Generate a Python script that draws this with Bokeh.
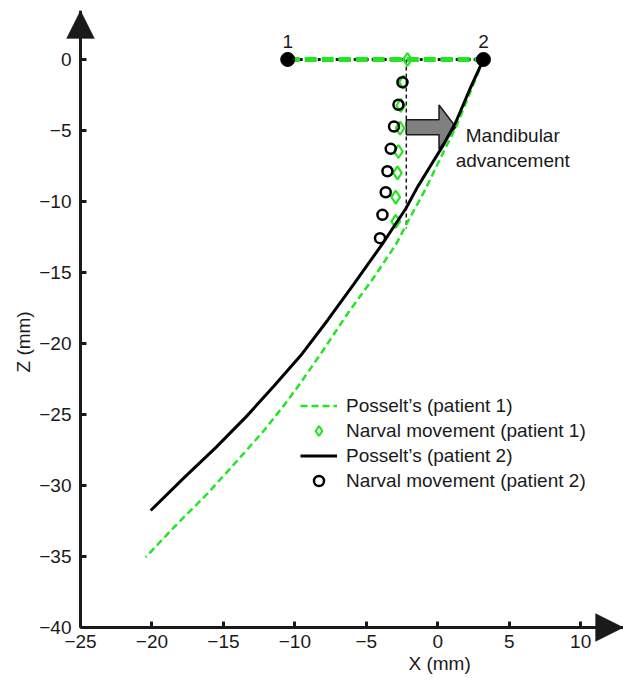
from bokeh.plotting import figure
from bokeh.models import (Range1d, Legend, LegendItem, PolyAnnotation, FixedTicker,
                          LinearAxis, Title)
from bokeh.core.properties import value
from bokeh.embed import file_html
from bokeh.resources import INLINE

FONT = "Liberation Sans"
GREEN = "#22e622"
INK = "#1a1a1a"

# ---- data (mm) ----
posselt1_x = [3.2, 2.2, 1.3, 0.28, -0.84, -2.12, -2.9, -4.46, -6.32, -8.19, -9.82, -10.87,
              -12.16, -14.02, -16.12, -18.46, -20.44]
posselt1_z = [0.0, -2.5, -4.7, -6.76, -9.1, -11.46, -12.98, -15.33, -17.91, -20.73, -23.08,
              -24.49, -26.13, -28.24, -30.58, -32.94, -35.05]

posselt2_x = [3.2, 2.2, 1.26, 0.44, -0.49, -1.42, -2.24, -3.17, -3.87, -5.86, -7.72, -9.59,
              -11.46, -13.4, -15.5, -17.8, -20.09]
posselt2_z = [0.0, -2.2, -4.42, -5.94, -7.46, -8.99, -10.51, -11.92, -12.98, -15.80, -18.38,
              -20.85, -23.0, -25.15, -27.3, -29.5, -31.76]

narval1_x = [-2.12, -2.4, -2.59, -2.64, -2.75, -2.82, -2.94, -2.94]
narval1_z = [0.0, -1.6, -3.24, -4.84, -6.48, -7.98, -9.7, -11.4]

narval2_x = [-2.47, -2.75, -3.06, -3.29, -3.52, -3.64, -3.87, -4.04]
narval2_z = [-1.6, -3.19, -4.72, -6.29, -7.87, -9.35, -10.94, -12.58]

protrusion_x = [-10.5, 3.2]
protrusion_z = [0.0, 0.0]
point_labels = ["1", "2"]

guide_x = [-2.2, -2.2]
guide_z = [0.0, -11.9]

advance_arrow_x = [-2.2, 0.09, 0.09, 1.26, 0.09, 0.09, -2.2]
advance_arrow_z = [-4.25, -4.25, -3.2, -4.75, -6.3, -5.3, -5.3]

annot_text = ["Mandibular", "advancement"]
annot_x = [5.25, 5.25]
annot_z = [-5.35, -7.1]

x_ticks = [-25, -20, -15, -10, -5, 0, 5, 10]
z_ticks = [-40, -35, -30, -25, -20, -15, -10, -5, 0]
x_title = "X (mm)"
z_title = "Z (mm)"

X_AXIS_AT, X_END = -25, 13.0      # y axis drawn at X = -25
Z_AXIS_AT, Z_END = -40, 3.45      # x axis drawn at Z = -40
PAD = 20                           # px of frame outside the axes (room for arrow heads)
PX_X, PX_Z = 500 / 35, 568 / 40    # px per mm
X_START = X_AXIS_AT - PAD / PX_X
Z_START = Z_AXIS_AT - PAD / PX_Z

p = figure(width=623, height=680, x_range=Range1d(X_START, X_END),
           y_range=Range1d(Z_START, Z_END), output_backend="svg",
           toolbar_location=None, min_border_left=80 - PAD, min_border_right=0,
           min_border_top=10, min_border_bottom=53 - PAD)
p.xgrid.visible = False
p.ygrid.visible = False
p.outline_line_color = None
p.background_fill_color = "white"


def minus(t):
    return str(t).replace("-", "\u2212")


# axis lines and ticks, drawn at X=-25 / Z=-40 inside the frame
for ax, ticks in ((p.xaxis[0], x_ticks), (p.yaxis[0], z_ticks)):
    ax.ticker = FixedTicker(ticks=ticks)
    ax.axis_line_width = 3
    ax.axis_line_color = INK
    ax.major_tick_line_width = 3
    ax.major_tick_line_color = INK
    ax.major_tick_in = 6
    ax.major_tick_out = 0
    ax.minor_tick_line_color = None
    ax.major_label_text_alpha = 0
p.xaxis.fixed_location = Z_AXIS_AT
p.yaxis.fixed_location = X_AXIS_AT
p.xaxis.bounds = (X_AXIS_AT, X_END)
p.yaxis.bounds = (Z_AXIS_AT, Z_END)

# tick labels in the side panels
lab_x = LinearAxis(ticker=FixedTicker(ticks=x_ticks),
                   major_label_overrides={t: minus(t) for t in x_ticks},
                   major_label_standoff=1 - PAD)
lab_z = LinearAxis(ticker=FixedTicker(ticks=z_ticks),
                   major_label_overrides={t: minus(t) for t in z_ticks},
                   major_label_standoff=3 - PAD)
for ax in (lab_x, lab_z):
    ax.axis_line_color = None
    ax.major_tick_line_color = None
    ax.minor_tick_line_color = None
    ax.major_label_text_font = FONT
    ax.major_label_text_font_size = "19px"
    ax.major_label_text_color = INK
p.add_layout(lab_x, "below")
p.add_layout(lab_z, "left")

# axis titles
p.add_layout(Title(text=x_title, align="left", offset=348, standoff=0,
                   text_font=FONT, text_font_size="19px", text_font_style="normal",
                   text_color=INK), "below")
p.add_layout(Title(text=z_title, align="left", offset=275, standoff=5,
                   text_font=FONT, text_font_size="19px", text_font_style="normal",
                   text_color=INK), "left")

# axis arrow heads (size in px converted to data units)
ux, uz = 1 / PX_X, 1 / PX_Z
HEAD_L, HEAD_HW = 28, 14
p.add_layout(PolyAnnotation(
    xs=[X_AXIS_AT - HEAD_HW * ux, X_AXIS_AT, X_AXIS_AT + HEAD_HW * ux],
    ys=[Z_END - HEAD_L * uz, Z_END, Z_END - HEAD_L * uz],
    fill_color=INK, fill_alpha=1, line_color=INK, line_width=1))
p.add_layout(PolyAnnotation(
    xs=[X_END - HEAD_L * ux, X_END, X_END - HEAD_L * ux],
    ys=[Z_AXIS_AT + HEAD_HW * uz, Z_AXIS_AT, Z_AXIS_AT - HEAD_HW * uz],
    fill_color=INK, fill_alpha=1, line_color=INK, line_width=1))

# protrusion line between 1 and 2
p.line(protrusion_x, protrusion_z, line_color=INK, line_width=3, line_dash="3 3")
p.line(protrusion_x, protrusion_z, line_color=GREEN, line_width=5, line_dash="12 5")

# vertical guide
p.line(guide_x, guide_z, line_color=INK, line_width=1.5, line_dash="4 3")

# advancement arrow
p.patch(advance_arrow_x, advance_arrow_z, fill_color="#808080", line_color=INK, line_width=1.5)

r_p1 = p.line(posselt1_x, posselt1_z, line_color=GREEN, line_width=2.5, line_dash="7 4")
r_n1 = p.scatter(narval1_x, narval1_z, marker="diamond", size=13,
                 fill_alpha=0, line_color=GREEN, line_width=2.2)
r_p2 = p.line(posselt2_x, posselt2_z, line_color="black", line_width=3)
r_n2 = p.scatter(narval2_x, narval2_z, marker="circle", size=10, fill_alpha=0,
                 line_color="black", line_width=2.5)

# points 1 and 2
p.scatter(protrusion_x, protrusion_z, size=14, fill_color="black", line_color="black")
p.text(protrusion_x, protrusion_z, text=point_labels, y_offset=-11,
       text_align="center", text_baseline="bottom",
       text_font=value(FONT), text_font_size="19px", text_color=INK)

p.text(annot_x, annot_z, text=annot_text, text_align="center", text_baseline="middle",
       text_font=value(FONT), text_font_size="19px", text_color=INK)

legend = Legend(items=[
    LegendItem(label="Posselt\u2019s (patient 1)", renderers=[r_p1]),
    LegendItem(label="Narval movement (patient 1)", renderers=[r_n1]),
    LegendItem(label="Posselt\u2019s (patient 2)", renderers=[r_p2]),
    LegendItem(label="Narval movement (patient 2)", renderers=[r_n2]),
], location=(220 + PAD, 134 + PAD), border_line_alpha=0, background_fill_alpha=0,
    label_text_font=FONT, label_text_font_size="19px", label_text_color=INK,
    glyph_width=37, glyph_height=25, label_height=25, spacing=0, padding=0,
    margin=0, label_standoff=9)
p.add_layout(legend)

open("out.html", "w").write(file_html(p, INLINE))
